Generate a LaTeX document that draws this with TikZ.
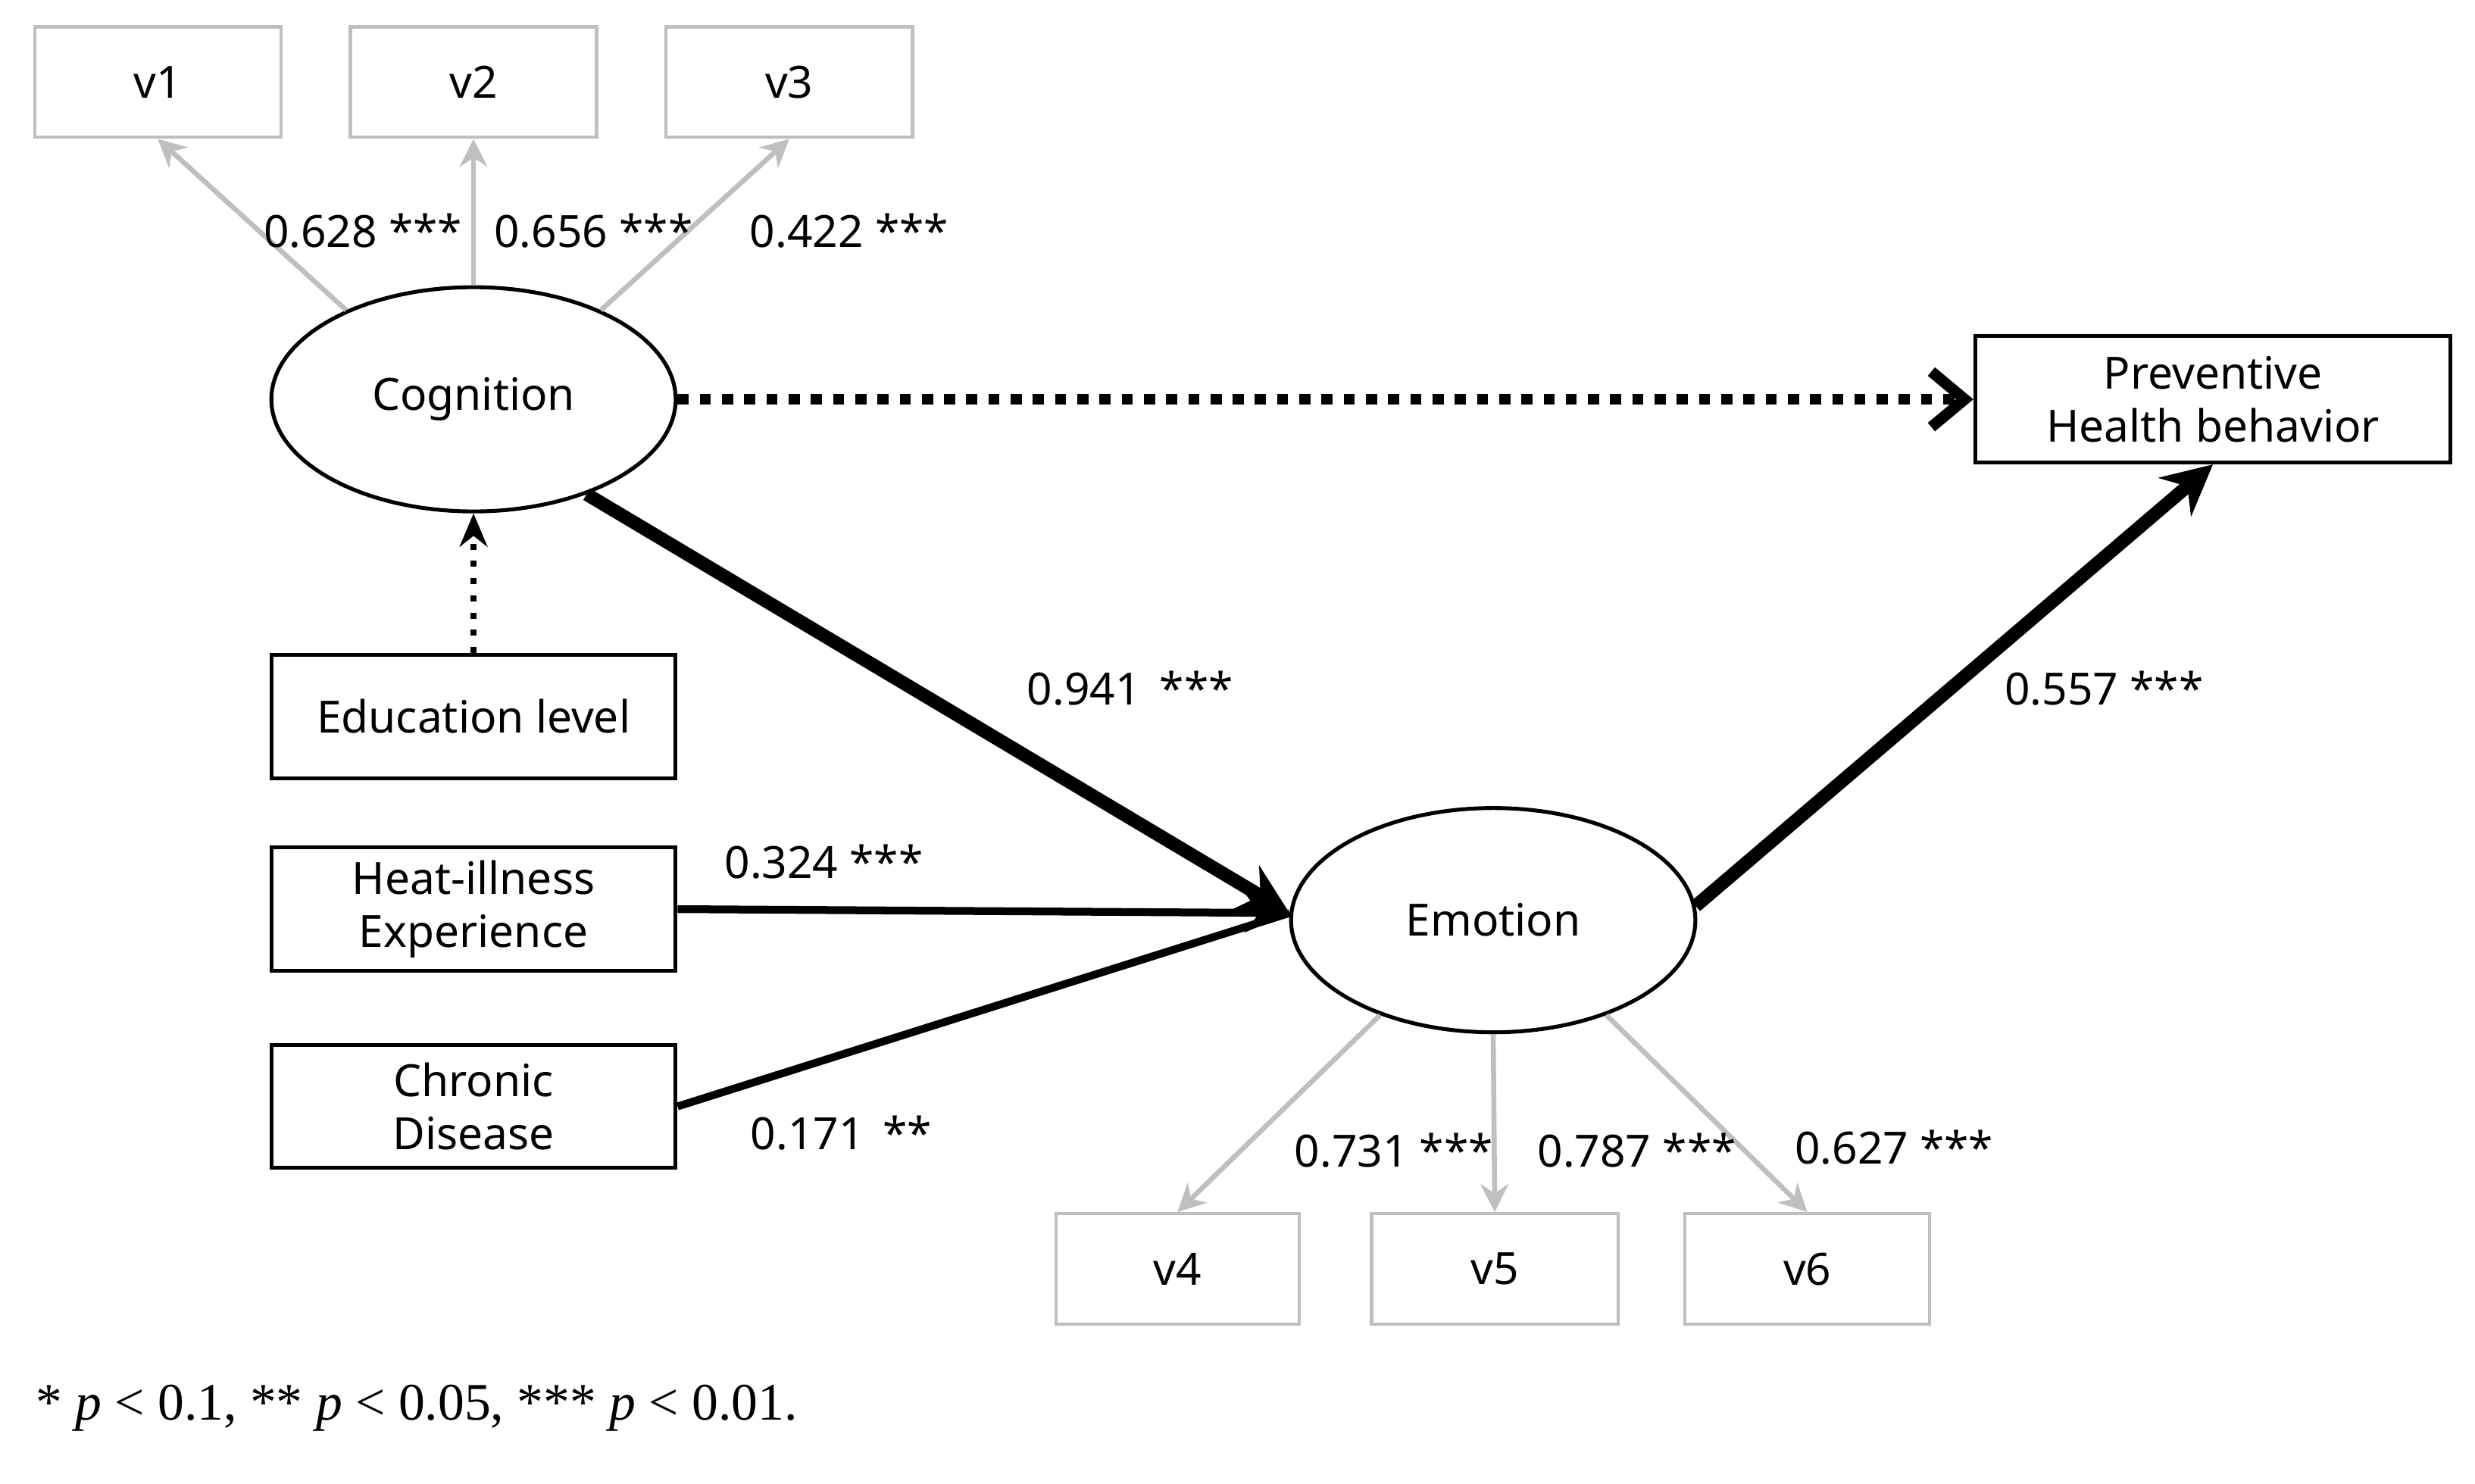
\documentclass[tikz,border=0pt]{standalone}
\usepackage{fontspec}
\setmainfont{Noto Sans}
\newfontfamily\serifx{Liberation Serif}
\usetikzlibrary{arrows.meta,shapes.geometric}
\begin{document}
\begin{tikzpicture}[x=0.01cm,y=-0.01cm,font=\fontsize{8}{9.5}\selectfont,
 gbox/.style={draw=black!25,line width=0.6pt,minimum width=1.56cm,minimum height=0.70cm,inner sep=0},
 bbox/.style={draw,line width=0.7pt,minimum width=2.56cm,minimum height=0.78cm,inner sep=0,align=center},
 ell/.style={draw,ellipse,line width=0.7pt,minimum width=2.56cm,minimum height=1.42cm,inner sep=0},
 garr/.style={draw=black!25,line width=0.9pt,-{Stealth[length=5pt,width=5pt]}},
 lab/.style={inner sep=0}]
\useasboundingbox (0,0) rectangle (1568,940);
\node[gbox] (v1) at (100,52) {v1};
\node[gbox] (v2) at (300,52) {v2};
\node[gbox] (v3) at (500,52) {v3};
\node[ell] (cog) at (300,253) {Cognition};
\node[bbox,minimum width=3.01cm,minimum height=0.80cm,inner sep=0] (prev) at (1402,253) {Preventive\\Health behavior};
\node[bbox] (edu) at (300,454) {Education level};
\node[bbox] (heat) at (300,576) {Heat-illness\\Experience};
\node[bbox] (chr) at (300,701) {Chronic\\Disease};
\node[ell] (emo) at (946,583) {Emotion};
\node[gbox,minimum width=1.54cm] (v4) at (746,804) {v4};
\node[gbox] (v5) at (947,804) {v5};
\node[gbox,minimum width=1.55cm] (v6) at (1145,804) {v6};
\draw[garr] (cog.145) -- (v1.south);
\draw[garr] (cog.north) -- (v2.south);
\draw[garr] (cog.35) -- (v3.south);
\draw[garr] (emo.-140) -- (v4.north);
\draw[garr] (emo.south) -- (v5.north);
\draw[garr] (emo.-40) -- (v6.north);
\draw[line width=2.4pt,-{Stealth[length=9pt,width=9pt]}] (cog.-40) -- (emo.178);
\draw[line width=2.4pt,-{Stealth[length=9pt,width=9pt]}] (emo.4) -- (prev.south);
\draw[line width=1.4pt,-{Stealth[length=8pt,width=7pt]}] (heat.east) -- (emo.178);
\draw[line width=1.4pt] (chr.east) -- (emo.178);
\draw[line width=2pt,dotted,-{Straight Barb[length=6pt,width=10pt]}] (cog.east) -- (prev.west);
\draw[line width=1.1pt,dotted,-{Stealth[length=6pt,width=5pt]}] (edu.north) -- (cog.south);
\node[lab] at (230,146) {0.628 ***};
\node[lab] at (376,146) {0.656 ***};
\node[lab] at (538,146) {0.422 ***};
\node[lab] at (716,436) {0.941 \,***};
\node[lab] at (1333,436) {0.557 ***};
\node[lab] at (522,546) {0.324 ***};
\node[lab] at (533,718) {0.171 \,**};
\node[lab] at (883,729) {0.731 ***};
\node[lab] at (1037,729) {0.787 ***};
\node[lab] at (1200,727) {0.627 ***};
\node[lab,anchor=west,font=\serifx\fontsize{9.5}{11}\selectfont] at (22,892) {* \textit{p} < 0.1, ** \textit{p} < 0.05, *** \textit{p} < 0.01.};
\end{tikzpicture}
\end{document}
